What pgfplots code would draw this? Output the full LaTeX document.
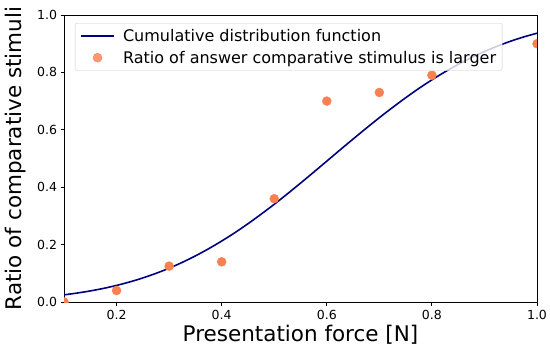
\documentclass[border=0pt]{standalone}
\usepackage{pgfplots}
\pgfplotsset{compat=1.18}
\usepackage{fontspec}
\setmainfont{DejaVu Sans}
\definecolor{cdfnavy}{RGB}{0,0,128}
\definecolor{ptcoral}{RGB}{250,128,82}
\pgfplotsset{
  mylineleg/.style={legend image code/.code={\path[draw=none,fill=none] (0pt,-1pt) rectangle (42pt,1pt);\draw[##1] (2pt,0pt) -- (35pt,0pt);}},
  mymarkleg/.style={legend image code/.code={\path[draw=none,fill=none] (0pt,-1pt) rectangle (42pt,1pt);\draw[mark repeat=2,mark phase=2,##1] plot coordinates {(2pt,0pt) (18.5pt,0pt) (35pt,0pt)};}},
}
\begin{document}
\begin{tikzpicture}
\begin{axis}[
  name=ax,
  scale only axis,
  width=473pt, height=287pt,
  xmin=0.1, xmax=1.0, ymin=0, ymax=1.0,
  xtick={0.2,0.4,0.6,0.8,1.0},
  ytick={0,0.2,0.4,0.6,0.8,1.0},
  xtick pos=bottom, ytick pos=left,
  tick align=outside,
  major tick length=3.5pt,
  tick style={black, line width=0.8pt},
  axis line style={black, line width=0.8pt},
  /pgf/number format/assume math mode=true,
  /pgf/number format/.cd, fixed, fixed zerofill, precision=1,
  /pgfplots/.cd,
  ticklabel style={font=\fontsize{12.5}{15}\selectfont},
  xticklabel style={yshift=-1pt},
  clip marker paths=true,
  xlabel={Presentation force [N]},
  ylabel={Ratio of comparative stimuli},
  xlabel style={at={(axis description cs:0.5,0)}, anchor=north, inner sep=0pt, yshift=-23pt, font=\fontsize{21.5}{25}\selectfont},
  ylabel style={at={(axis description cs:-0.080,0.5)}, anchor=south, inner sep=0pt, font=\fontsize{21.5}{25}\selectfont},
  legend cell align=left,
  legend style={at={(axis description cs:0.023,0.972)}, anchor=north west,
    draw=black!20, rounded corners=2pt, fill=white, fill opacity=0.8, text opacity=1,
    font=\fontsize{16}{19}\selectfont, row sep=4pt, inner xsep=4pt, inner ysep=4pt},
]
\addplot[cdfnavy, line width=1.6pt, smooth, mylineleg] coordinates {
(0.100,0.0249)(0.125,0.0312)(0.150,0.0386)(0.175,0.0474)(0.200,0.0578)
(0.225,0.0699)(0.250,0.0838)(0.275,0.0998)(0.300,0.1178)(0.325,0.1381)
(0.350,0.1606)(0.375,0.1854)(0.400,0.2124)(0.425,0.2414)(0.450,0.2727)
(0.475,0.3058)(0.500,0.3405)(0.525,0.3768)(0.550,0.4141)(0.575,0.4522)
(0.600,0.4908)(0.625,0.5295)(0.650,0.5677)(0.675,0.6054)(0.700,0.6422)
(0.725,0.6776)(0.750,0.7116)(0.775,0.7438)(0.800,0.7740)(0.825,0.8020)
(0.850,0.8279)(0.875,0.8515)(0.900,0.8728)(0.925,0.8918)(0.950,0.9088)
(0.975,0.9237)(1.000,0.9366)
};
\addlegendentry{Cumulative distribution function}
\addplot[only marks, mark=*, mark size=4.5pt, color=ptcoral, mark options={draw=ptcoral, fill=ptcoral}, mymarkleg] coordinates {
(0.1,0.0)(0.2,0.04)(0.3,0.125)(0.4,0.14)(0.5,0.36)(0.6,0.70)(0.7,0.73)(0.8,0.79)(1.0,0.90)
};
\addlegendentry{Ratio of answer comparative stimulus is larger}
\end{axis}
\pgfresetboundingbox
\path ([xshift=-64pt,yshift=-53pt]ax.south west) rectangle ([xshift=13pt,yshift=15pt]ax.north east);
\end{tikzpicture}
\end{document}
